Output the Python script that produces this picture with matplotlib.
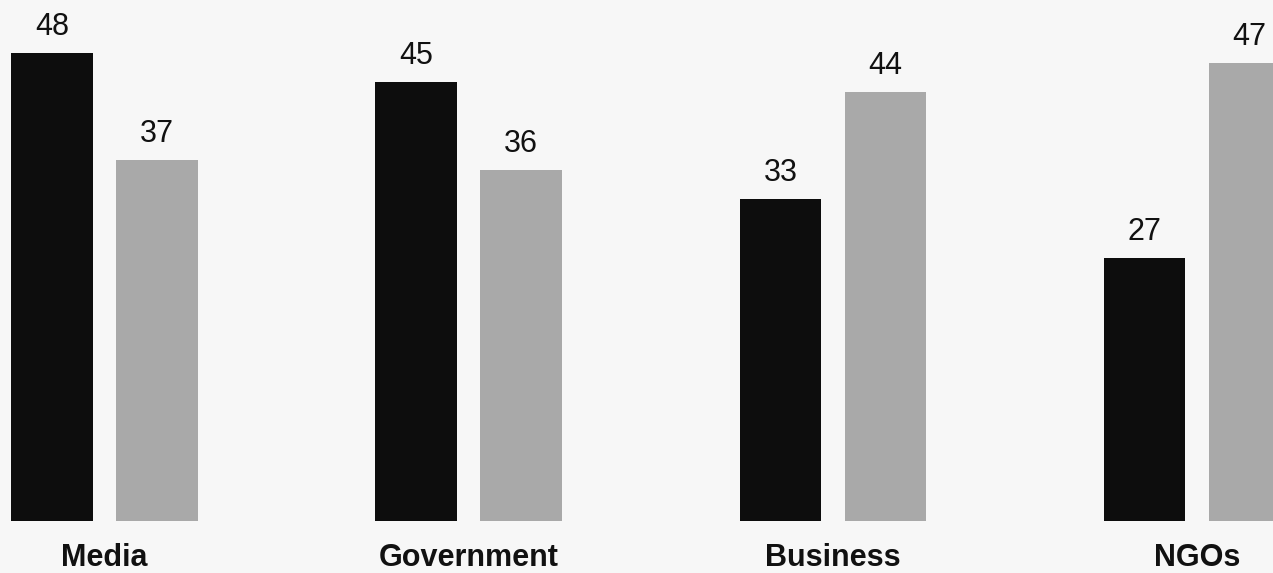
import matplotlib
matplotlib.use("Agg")
import matplotlib.pyplot as plt
import numpy as np

categories = ["Media", "Government", "Business", "NGOs"]
series_dark = [48, 45, 33, 27]
series_light = [37, 36, 44, 47]

plt.rcParams['font.family'] = ['Liberation Sans', 'DejaVu Sans']

W, H = 1273, 573
fig = plt.figure(figsize=(W / 100, H / 100), dpi=100)
bg = "#f7f7f7"
fig.patch.set_facecolor(bg)

base_px = 52  # distance of the baseline from the bottom edge
ax = fig.add_axes([0, base_px / H, 1, (H - base_px) / H])
ax.set_facecolor(bg)

group_px = 364.2
x0_px = 104.5
ax.set_xlim(-x0_px / group_px, (W - x0_px) / group_px)
ax.set_ylim(0, (H - base_px) / 9.75)

x = np.arange(len(categories))
width = 81.5 / group_px
offset = 52.5 / group_px

bars_dark = ax.bar(x - offset, series_dark, width, color="#0d0d0d")
bars_light = ax.bar(x + offset, series_light, width, color="#a9a9a9")

for bars, vals in ((bars_dark, series_dark), (bars_light, series_light)):
    for b, v in zip(bars, vals):
        ax.annotate(str(v), (b.get_x() + b.get_width() / 2, v),
                    xytext=(0, 18), textcoords="offset pixels",
                    ha="center", va="baseline", fontsize=22,
                    color="#111111", annotation_clip=False)

for xi, cat in zip(x, categories):
    ax.annotate(cat, (xi, 0), xytext=(0, -45), textcoords="offset pixels",
                ha="center", va="baseline", fontsize=22, fontweight="bold",
                color="#111111", annotation_clip=False)

for s in ax.spines.values():
    s.set_visible(False)
ax.set_xticks([])
ax.set_yticks([])

fig.savefig("out.png", dpi=100, facecolor=bg)
